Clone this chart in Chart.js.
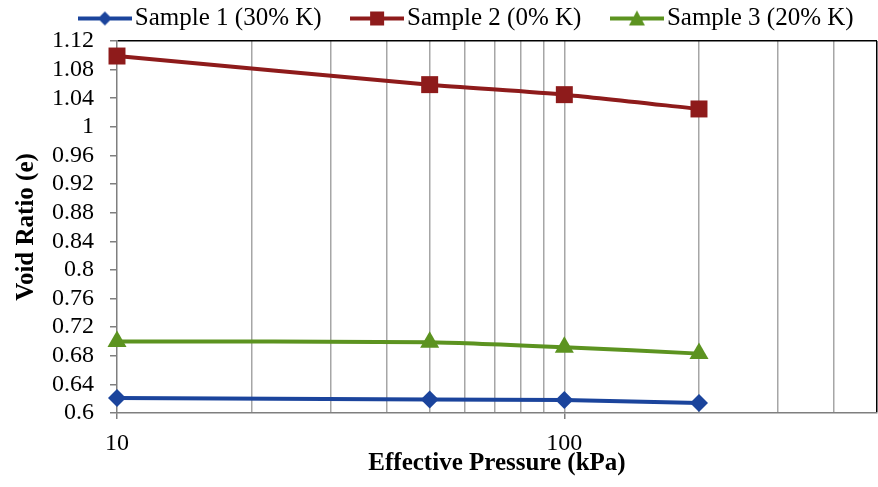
<!DOCTYPE html>
<html>
<head>
<meta charset="utf-8">
<script src="https://cdn.jsdelivr.net/npm/chart.js@4"></script>
<style>
  html, body { margin: 0; padding: 0; overflow: hidden; background: #fff; }
  canvas { display: block; }
</style>
</head>
<body>
<canvas id="chart" width="878" height="487"></canvas>
<script>
// Data
const pressure = [10, 50, 100, 200];
const sample1 = [0.621, 0.619, 0.618, 0.614];
const sample2 = [1.099, 1.059, 1.045, 1.025];
const sample3 = [0.700, 0.699, 0.692, 0.683];
const seriesNames = ["Sample 1 (30% K)", "Sample 2 (0% K)", "Sample 3 (20% K)"];
const xTicks = [10, 20, 30, 40, 50, 60, 70, 80, 90, 100, 200, 300, 400, 500];
const xLabelled = [10, 100];
const yTicks = [0.6, 0.64, 0.68, 0.72, 0.76, 0.8, 0.84, 0.88, 0.92, 0.96, 1, 1.04, 1.08, 1.12];

const serif = "'Liberation Serif', 'Times New Roman', serif";
const colors = ["#1b449c", "#8e1b1b", "#5c9320"];
const styles = ["rectRot", "rect", "triangle"];
const radii = [9, 12, 11];

// small line+marker icon for the legend
function makeIcon(color, style) {
  const c = document.createElement("canvas");
  c.width = 54;
  c.height = 20;
  const g = c.getContext("2d");
  g.strokeStyle = color;
  g.fillStyle = color;
  g.lineWidth = 4;
  g.beginPath();
  g.moveTo(0, 10);
  g.lineTo(54, 10);
  g.stroke();
  g.beginPath();
  if (style === "rectRot") {
    g.moveTo(27, 3); g.lineTo(34, 10); g.lineTo(27, 17); g.lineTo(20, 10);
  } else if (style === "rect") {
    g.rect(20, 3, 14, 14);
  } else {
    g.moveTo(27, 2); g.lineTo(35, 17); g.lineTo(19, 17);
  }
  g.closePath();
  g.fill();
  return c;
}
const icons = colors.map((c, i) => makeIcon(c, styles[i]));

function points(ys) {
  return pressure.map((x, i) => ({ x: x, y: ys[i] }));
}

const datasets = [sample1, sample2, sample3].map((ys, i) => ({
  label: seriesNames[i],
  data: points(ys),
  borderColor: colors[i],
  backgroundColor: colors[i],
  borderWidth: 4,
  pointStyle: styles[i],
  pointRadius: radii[i],
  pointHoverRadius: radii[i],
  pointBorderWidth: 0,
  tension: 0.2,
  clip: false
}));

// nudge the legend a bit to the right, like in the original figure
const legendShift = {
  id: "legendShift",
  afterLayout(chart) {
    if (chart.legend) {
      chart.legend.left += 32;
      chart.legend.right += 32;
    }
  }
};

new Chart(document.getElementById("chart"), {
  type: "line",
  data: { datasets: datasets },
  plugins: [legendShift],
  options: {
    responsive: false,
    animation: false,
    layout: { autoPadding: false, padding: { top: -32, right: 1, left: 0, bottom: 0 } },
    plugins: {
      tooltip: { enabled: false },
      legend: {
        position: "top",
        labels: {
          usePointStyle: true,
          pointStyleWidth: 35,
          padding: 38,
          color: "#000",
          font: { family: serif, size: 25 },
          generateLabels: function (chart) {
            const items = Chart.defaults.plugins.legend.labels.generateLabels(chart);
            items.forEach((it, i) => { it.pointStyle = icons[i]; it.rotation = 0; });
            return items;
          }
        }
      }
    },
    scales: {
      x: {
        type: "logarithmic",
        min: 10,
        max: 500,
        afterBuildTicks: function (scale) {
          scale.ticks = xTicks.map(v => ({ value: v }));
        },
        afterFit: function (scale) {
          scale.height = 74;
          scale.paddingLeft = 0;
          scale.paddingRight = 0;
        },
        border: { color: "#7f7f7f", width: 1.5 },
        grid: {
          color: function (ctx) {
            const v = ctx.tick && ctx.tick.value;
            if (v === 10) return "rgba(0,0,0,0)";
            if (v === 500) return "#000";
            return "#a6a6a6";
          },
          lineWidth: 1.5,
          tickLength: 6,
          tickColor: function (ctx) {
            const v = ctx.tick && ctx.tick.value;
            return xLabelled.includes(v) ? "#7f7f7f" : "rgba(0,0,0,0)";
          }
        },
        ticks: {
          autoSkip: false,
          maxRotation: 0,
          padding: 10,
          color: "#000",
          font: { family: serif, size: 24 },
          callback: function (v) { return xLabelled.includes(v) ? String(v) : ""; }
        },
        title: {
          display: true,
          text: "Effective Pressure (kPa)",
          color: "#000",
          font: { family: serif, size: 25, weight: "bold" },
          padding: { top: 0, bottom: 8 }
        }
      },
      y: {
        min: 0.6,
        max: 1.12,
        afterBuildTicks: function (scale) {
          scale.ticks = yTicks.map(v => ({ value: v }));
        },
        afterFit: function (scale) { scale.width = 117; },
        border: { color: "#7f7f7f", width: 1.5 },
        grid: {
          color: function (ctx) {
            const v = ctx.tick && ctx.tick.value;
            return Math.abs(v - 1.12) < 1e-6 ? "#000" : "rgba(0,0,0,0)";
          },
          lineWidth: 1.5,
          tickLength: 7,
          tickColor: "#7f7f7f"
        },
        ticks: {
          autoSkip: false,
          padding: 16,
          color: "#000",
          font: { family: serif, size: 24 },
          callback: function (v) { return String(v); }
        },
        title: {
          display: true,
          text: "Void Ratio (e)",
          color: "#000",
          font: { family: serif, size: 25, weight: "bold" },
          padding: { top: 12, bottom: 0 }
        }
      }
    }
  }
});
</script>
</body>
</html>
